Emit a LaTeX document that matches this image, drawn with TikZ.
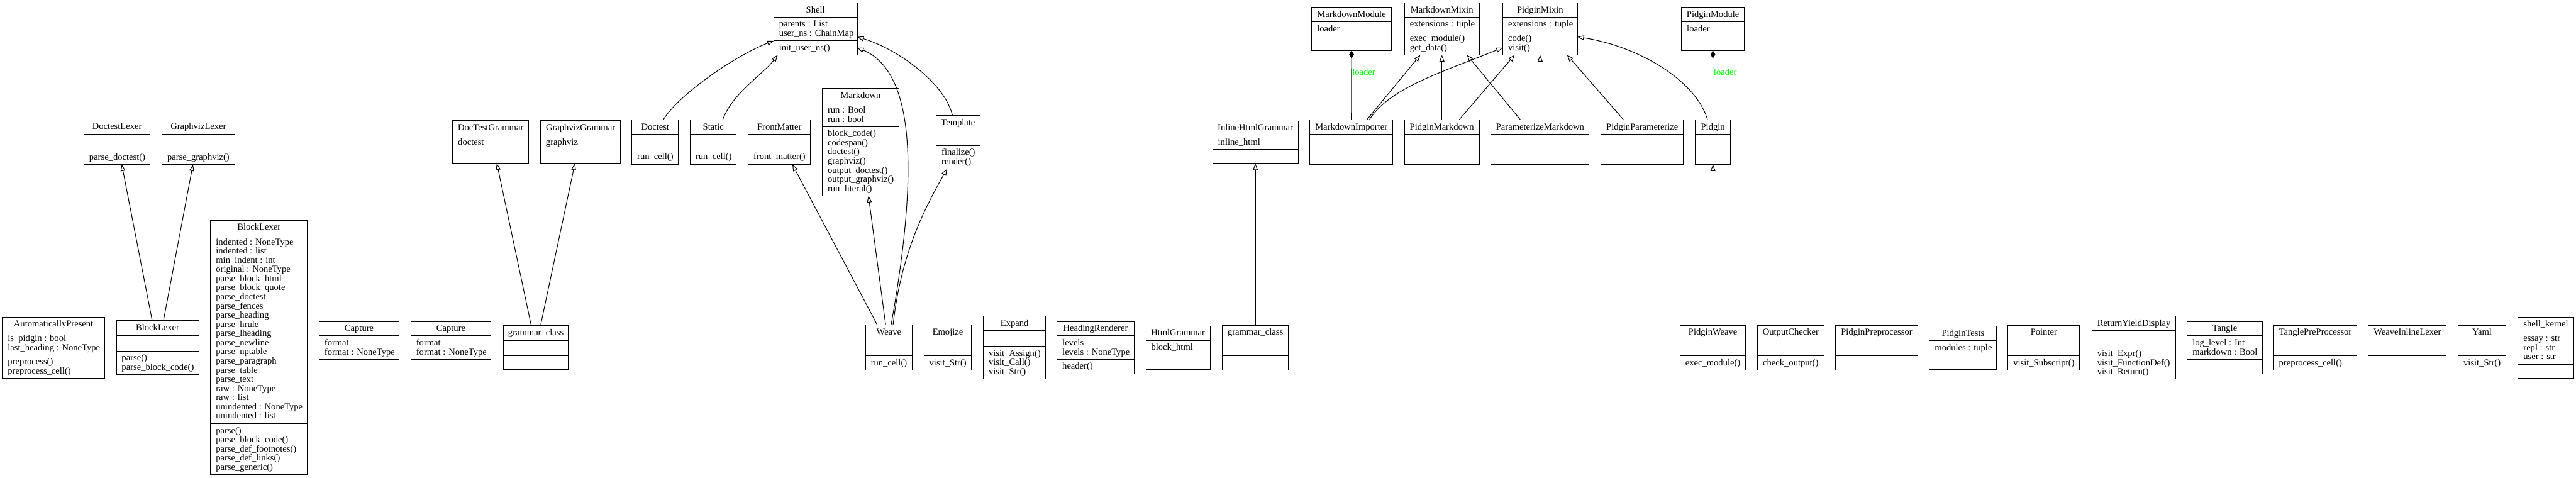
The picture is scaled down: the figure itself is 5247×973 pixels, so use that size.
\documentclass[tikz,border=0pt]{standalone}
\usepackage{fontspec}
\setmainfont{Liberation Serif}
\usetikzlibrary{arrows.meta}
\definecolor{lblgreen}{RGB}{0,255,0}
\newcommand\fstrut{\rule{0pt}{14.6pt}}
\newcommand\lstrut{\rule[-4.07pt]{0pt}{0pt}}
\def\umlgeom#1/#2/#3/#4/#5/#6\relax{\def\clsL{#1}\def\clsT{#2}\def\clsR{#3}\def\clsSa{#4}\def\clsSb{#5}\def\clsB{#6}}
\newcommand\umlclass[5]{%
  \umlgeom#2\relax
  \node[classbox, anchor=north west, minimum width={\clsR-\clsL}, minimum height={\clsB-\clsT}] (#1) at (\clsL,\clsT) {};
  \draw[sepline] (\clsL,\clsSa) -- (\clsR,\clsSa) (\clsL,\clsSb) -- (\clsR,\clsSb);
  \node[txt] (#1-t) at ({(\clsL+\clsR)/2},{(\clsT+\clsSa)/2}) {\fstrut #3\lstrut};
  \if\relax\detokenize{#4}\relax\else
    \node[txt, anchor=west] (#1-a) at ({\clsL+10.67},{(\clsSa+\clsSb)/2}) {\fstrut #4\lstrut};\fi
  \if\relax\detokenize{#5}\relax\else
    \node[txt, anchor=west] (#1-m) at ({\clsL+10.67},{(\clsSb+\clsB)/2}) {\fstrut #5\lstrut};\fi
}
\begin{document}
\begin{tikzpicture}[x=1pt,y=-1pt,
  classbox/.style={draw=black, line width=1.33pt, inner sep=0pt, outer sep=0pt, rectangle},
  sepline/.style={line width=1.33pt},
  txt/.style={inner sep=0pt, align=left, font=\fontsize{18.67pt}{18.67pt}\selectfont},
  inh/.style={line width=1.33pt, -{Triangle[open,length=13.3pt,width=10pt]}},
  comp/.style={line width=1.33pt, {Diamond[length=16pt,width=10pt]}-},
  lbl/.style={inner sep=0pt, anchor=west, text=lblgreen, font=\fontsize{18.67pt}{18.67pt}\selectfont}]
\path[fill=white, use as bounding box] (0,0) rectangle (5247,973);

% ---- left group
\umlclass{autopresent}{5/646/213/675/723/771}{AutomaticallyPresent}{is\_pidgin : bool\\last\_heading : NoneType}{preprocess()\\preprocess\_cell()}
\umlclass{doctestlexer}{171/244/306/273/306/335}{DoctestLexer}{}{parse\_doctest()}
\umlclass{graphvizlexer}{330/244/478/273/306/335}{GraphvizLexer}{}{parse\_graphviz()}
\umlclass{blocklexer}{237/653/405/683/715/763}{BlockLexer}{}{parse()\\parse\_block\_code()}
\umlclass{blocklexerbig}{429/449/626/478/863/967}{BlockLexer}{indented : NoneType\\indented : list\\min\_indent : int\\original : NoneType\\parse\_block\_html\\parse\_block\_quote\\parse\_doctest\\parse\_fences\\parse\_heading\\parse\_hrule\\parse\_lheading\\parse\_newline\\parse\_nptable\\parse\_paragraph\\parse\_table\\parse\_text\\raw : NoneType\\raw : list\\unindented : NoneType\\unindented : list}{parse()\\parse\_block\_code()\\parse\_def\_footnotes()\\parse\_def\_links()\\parse\_generic()}
\umlclass{capturea}{650/655/813/684/732/762}{Capture}{format\\format : NoneType}{}
\umlclass{captureb}{837/655/1000/684/732/762}{Capture}{format\\format : NoneType}{}
\umlclass{grammara}{1025/663/1158/693/724/753}{grammar\_class}{}{}
\umlclass{doctestgrammar}{922/245/1077/275/305/333}{DocTestGrammar}{doctest}{}
\umlclass{graphvizgrammar}{1101/245/1264/275/305/333}{GraphvizGrammar}{graphviz}{}

% ---- shell group
\umlclass{shell}{1576/6/1746/35/83/112}{Shell}{parents : List\\user\_ns : ChainMap}{init\_user\_ns()}
\umlclass{doctest}{1287/244/1382/274/305/335}{Doctest}{}{run\_cell()}
\umlclass{static}{1406/244/1500/274/305/335}{Static}{}{run\_cell()}
\umlclass{frontmatter}{1524/244/1651/274/305/335}{FrontMatter}{}{front\_matter()}
\umlclass{markdown}{1675/180/1831/210/258/399}{Markdown}{run : Bool\\run : bool}{block\_code()\\codespan()\\doctest()\\graphviz()\\output\_doctest()\\output\_graphviz()\\run\_literal()}
\umlclass{template}{1907/235/1996/265/296/344}{Template}{}{finalize()\\render()}
\umlclass{weave}{1763/662/1858/692/724/754}{Weave}{}{run\_cell()}
\umlclass{emojize}{1882/662/1979/692/724/754}{Emojize}{}{visit\_Str()}
\umlclass{expand}{2003/644/2130/673/705/772}{Expand}{}{visit\_Assign()\\visit\_Call()\\visit\_Str()}
\umlclass{headingrenderer}{2153/655/2310/684/732/761}{HeadingRenderer}{levels\\levels : NoneType}{header()}
\umlclass{htmlgrammar}{2334/664/2465/693/723/752}{HtmlGrammar}{block\_html}{}
\umlclass{grammarb}{2490/663/2624/692/724/754}{grammar\_class}{}{}
\umlclass{inlinehtml}{2470/246/2644/275/304/333}{InlineHtmlGrammar}{inline\_html}{}

% ---- markdown / pidgin group
\umlclass{mdmodule}{2672/15/2834/44/74/103}{MarkdownModule}{loader}{}
\umlclass{mdmixin}{2861/6/3013/35/64/112}{MarkdownMixin}{extensions : tuple}{exec\_module()\\get\_data()}
\umlclass{pgmixin}{3061/6/3213/35/64/112}{PidginMixin}{extensions : tuple}{code()\\visit()}
\umlclass{mdimporter}{2668/244/2837/274/305/335}{MarkdownImporter}{}{}
\umlclass{pgmarkdown}{2861/244/3013/274/305/335}{PidginMarkdown}{}{}
\umlclass{parammd}{3037/244/3237/274/305/335}{ParameterizeMarkdown}{}{}
\umlclass{pgparam}{3261/244/3429/274/305/335}{PidginParameterize}{}{}
\umlclass{pgmodule}{3425/15/3553/44/74/103}{PidginModule}{loader}{}
\umlclass{pidgin}{3453/244/3525/274/305/335}{Pidgin}{}{}
\umlclass{pgweave}{3422/663/3556/692/724/754}{PidginWeave}{}{exec\_module()}
\umlclass{outputchecker}{3580/663/3715/692/724/754}{OutputChecker}{}{check\_output()}
\umlclass{pgpre}{3739/663/3906/692/724/754}{PidginPreprocessor}{}{}
\umlclass{pgtests}{3930/664/4067/694/723/752}{PidginTests}{modules : tuple}{}
\umlclass{pointer}{4090/663/4236/692/724/754}{Pointer}{}{visit\_Subscript()}
\umlclass{returnyield}{4261/644/4432/673/706/772}{ReturnYieldDisplay}{}{visit\_Expr()\\visit\_FunctionDef()\\visit\_Return()}
\umlclass{tangle}{4455/655/4608/684/732/762}{Tangle}{log\_level : Int\\markdown : Bool}{}
\umlclass{tanglepre}{4631/663/4801/692/724/754}{TanglePreProcessor}{}{preprocess\_cell()}
\umlclass{weaveinline}{4824/663/4983/692/724/754}{WeaveInlineLexer}{}{}
\umlclass{yaml}{5007/663/5104/692/724/754}{Yaml}{}{visit\_Str()}
\umlclass{shellkernel}{5129/646/5242/675/742/771}{shell\_kernel}{essay : str\\repl : str\\user : str}{}

% ---- connectors
\draw[inh] ([shift={(-11,0)}]blocklexer.north) -- ([shift={(9.5,0)}]doctestlexer.south);
\draw[inh] ([shift={(12,0)}]blocklexer.north) -- ([shift={(-11,0)}]graphvizlexer.south);
\draw[inh] ([shift={(-9.5,0)}]grammara.north) -- ([shift={(12.5,0)}]doctestgrammar.south);
\draw[inh] ([shift={(9.5,0)}]grammara.north) -- ([shift={(-11.5,0)}]graphvizgrammar.south);

\draw[inh] ([shift={(16.5,0)}]doctest.north) .. controls +(30,-50) and +(-80,31) .. ([shift={(0,24)}]shell.west);
\draw[inh] ([shift={(19,0)}]static.north) .. controls +(20,-55) and +(-30,40) .. ([shift={(-77,0)}]shell.south);
\draw[inh] ([shift={(4.5,0)}]weave.north) .. controls +(65,-362) and +(103,43) .. ([shift={(0,38)}]shell.east);
\draw[inh] ([shift={(8.5,0)}]weave.north) .. controls +(16,-142) and +(-49,86) .. ([shift={(-22.5,0)}]template.south);
\draw[inh] ([shift={(-23.5,0)}]weave.north) -- ([shift={(26.5,0)}]frontmatter.south);
\draw[inh] ([shift={(-6.5,0)}]weave.north) -- ([shift={(16,0)}]markdown.south);
\draw[inh] ([shift={(-11.5,0)}]template.north) .. controls +(-15,-65) and +(83,25) .. ([shift={(0,16)}]shell.east);

\draw[inh] (grammarb.north) -- (inlinehtml.south);

\draw[comp] (mdmodule.south) -- node[lbl, pos=0.31, xshift=1pt] (lblmd) {loader} (mdimporter.north);
\draw[inh] ([shift={(31.5,0)}]mdimporter.north) -- ([shift={(-44,0)}]mdmixin.south);
\draw[inh] ([shift={(36.5,0)}]mdimporter.north) .. controls +(41,-64) and +(-132,53) .. ([shift={(0,38)}]pgmixin.west);
\draw[inh] (pgmarkdown.north) -- (mdmixin.south);
\draw[inh] ([shift={(35,0)}]pgmarkdown.north) -- ([shift={(-52,0)}]pgmixin.south);
\draw[inh] ([shift={(-40,0)}]parammd.north) -- ([shift={(51,0)}]mdmixin.south);
\draw[inh] (parammd.north) -- (pgmixin.south);
\draw[inh] ([shift={(-38,0)}]pgparam.north) -- ([shift={(55,0)}]pgmixin.south);
\draw[inh] ([shift={(-11,0)}]pidgin.north) .. controls +(-23,-79) and +(127,20) .. ([shift={(0,16)}]pgmixin.east);
\draw[comp] (pgmodule.south) -- node[lbl, pos=0.31, xshift=1pt] (lblpg) {loader} (pidgin.north);
\draw[inh] (pgweave.north) -- (pidgin.south);
\end{tikzpicture}
\end{document}
